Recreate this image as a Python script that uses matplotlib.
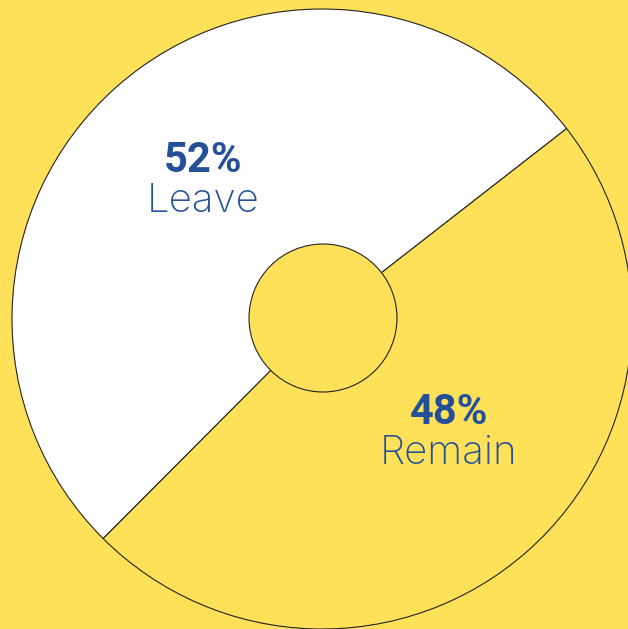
import matplotlib
matplotlib.use("Agg")
import matplotlib.pyplot as plt

labels = ["Leave", "Remain"]
shares = [52, 48]
pct_text = ["52%", "48%"]

bg = "#FEE158"
blue = "#24509A"

fig = plt.figure(figsize=(6.28, 6.29), dpi=100, facecolor=bg)
ax = fig.add_axes([0, 0, 1, 1])
ax.set_facecolor(bg)

cx, cy, R = 322, 310, 310
ax.pie(shares, colors=["white", bg], startangle=37.9, counterclock=True,
       center=(cx, cy), radius=R, frame=True,
       wedgeprops=dict(edgecolor="#222222", linewidth=0.8))
ax.set_xlim(0, 628)
ax.set_ylim(0, 629)
ax.set_aspect("equal")
ax.axis("off")

hole = plt.Circle((cx + 1, cy + 1), 74, facecolor=bg, edgecolor="#222222", linewidth=0.8, zorder=5)
ax.add_patch(hole)

# label positions (pixel coords)
pos = [(203, 468, 428), (449, 216, 176)]
for (x, y1, y2), p, lab in zip(pos, pct_text, labels):
    ax.text(x, y1, p, ha="center", va="center", fontsize=30, fontweight="bold",
            color=blue, family=["Roboto", "DejaVu Sans"], zorder=6)
    ax.text(x, y2, lab, ha="center", va="center", fontsize=29, fontweight="light",
            color=blue, family=["Inter", "DejaVu Sans"], zorder=6)

fig.savefig("out.png", dpi=100, facecolor=bg)
